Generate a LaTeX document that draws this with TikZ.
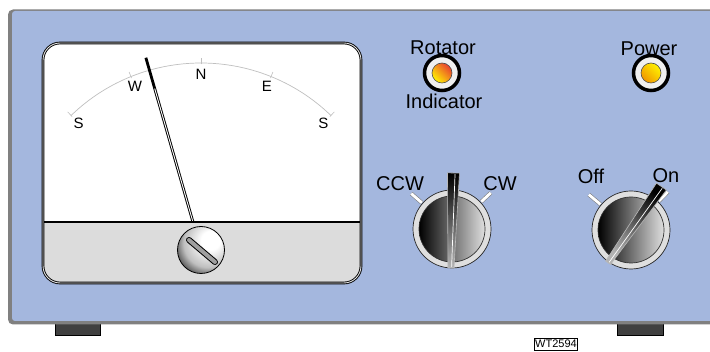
\documentclass[tikz,border=0pt]{standalone}
\usepackage{fontspec}
\setmainfont{Liberation Sans}
\definecolor{panelblue}{RGB}{164,183,222}
\definecolor{panelrim}{RGB}{128,128,128}
\definecolor{footgray}{RGB}{64,64,64}
\definecolor{scalegray}{RGB}{192,192,192}
\definecolor{lowergray}{RGB}{220,220,220}
\definecolor{ledred}{RGB}{232,64,48}
\definecolor{ledyellow}{RGB}{255,242,0}
\definecolor{ledorange}{RGB}{240,150,0}
\pgfdeclareradialshading{screwshade}{\pgfpoint{12bp}{12bp}}{%
  color(0bp)=(white); color(10bp)=(white); color(26bp)=(gray!50);
  color(38bp)=(gray!30!black); color(46bp)=(black); color(70bp)=(black)}
\begin{document}
\begin{tikzpicture}[x=1pt,y=-1pt,
  lbl/.style={font=\fontsize{20}{22}\selectfont, inner sep=0pt},
  dial/.style={font=\fontsize{15}{17}\selectfont, inner sep=0pt},
  foot/.style={fill=footgray, draw=black, line width=0.9pt},
  ledring/.style={circle, minimum size=35pt, inner sep=0pt, fill=gray!12, draw=black, line width=3.5pt},
  ledlamp/.style={circle, minimum size=20pt, inner sep=0pt, draw=black!70, line width=0.6pt},
  knobrim/.style={circle, minimum size=78pt, inner sep=0pt, fill=gray!25, draw=gray!30!black, line width=0.7pt},
  knobface/.style={circle, minimum size=66pt, inner sep=0pt, draw=black!80, line width=0.7pt,
    left color=black, middle color=gray!60, right color=gray!25},
  marker/.style={draw=gray, line width=0.6pt, double=white, double distance=2.8pt},
  pointer/.style={draw=gray!55, line width=0.6pt, top color=black, bottom color=gray!60},
  scaleline/.style={scalegray, line width=0.7pt},
]
\useasboundingbox (0,0) rectangle (710,352);

% feet under the cabinet
\draw[foot] (55,322) rectangle (100,335);
\draw[foot] (617,322) rectangle (663,335);

% cabinet front
\fill[panelrim, rounded corners=5pt] (8,9.5) rectangle (730,324.5);
\fill[panelblue, rounded corners=3pt] (12,11) rectangle (730,321);

% meter face
\fill[white, rounded corners=17pt] (43,43) rectangle (361,283);
\coordinate (piv) at (201,250);
\begin{scope}[shift={(piv)}, yscale=-1]
  \draw[scaleline] (134:187) arc[start angle=134, end angle=46, radius=187];
  \foreach \a in {134,112,90,68,46}
    \draw[scalegray, line width=0.6pt] (\a:185.5) -- (\a:192);
  \node[dial] (dS1) at (134:176) {S};
  \node[dial] (dW) at (112:176) {W};
  \node[dial] (dN) at (90:176) {N};
  \node[dial] (dE) at (68:176) {E};
  \node[dial] (dS2) at (46:176) {S};
  % needle
  \draw[line width=2.8pt] (0,0) -- (106:200);
  \draw[white, line width=0.9pt] (0,0) -- (106:168);
\end{scope}
\begin{scope}
  \clip[rounded corners=17pt] (43,43) rectangle (361,283);
  \fill[lowergray] (43,222) rectangle (361,283);
  \draw[line width=1.2pt] (43,222) -- (361,222);
\end{scope}
\draw[black, line width=0.9pt, double=white!80!gray, double distance=0.9pt, rounded corners=17pt]
  (43,43) rectangle (361,283);

% zero-adjust screw
\node[circle, minimum size=47pt, inner sep=0pt, shade, shading=screwshade, draw=black, line width=0.8pt]
  (screw) at (piv) {};
\draw[black, line width=6pt, line cap=round]
  ([shift={(-12,-10)}]screw.center) -- ([shift={(14,12)}]screw.center);
\draw[gray!75, line width=4pt, line cap=round]
  ([shift={(-12,-10)}]screw.center) -- ([shift={(14,12)}]screw.center);

% indicator lamps
\node[ledring] (rotring) at (442,73) {};
\node[ledlamp, top color=ledred, bottom color=ledyellow, shading angle=-45] (rotlamp) at (rotring) {};
\node[ledring] (pwrring) at (651,73) {};
\node[ledlamp, top color=ledyellow, bottom color=ledorange, shading angle=-45] (pwrlamp) at (pwrring) {};

% knob position markers
\coordinate (rk) at (452,229);
\coordinate (pk) at (631,230);
\begin{scope}[shift={(rk)}, yscale=-1]
  \draw[marker] (139:40) -- (139:54);
  \draw[marker] (43:40) -- (43:53);
\end{scope}
\begin{scope}[shift={(pk)}, yscale=-1]
  \draw[marker] (140:40) -- (140:55);
  \draw[marker] (46:40) -- (46:53);
\end{scope}

% knobs
\node[knobrim] (rotknob) at (rk) {};
\node[knobface] (rotface) at (rk) {};
\node[knobrim] (pwrknob) at (pk) {};
\node[knobface] (pwrface) at (pk) {};

% knob pointers (rotate acts after the y flip, so a positive angle turns clockwise)
\begin{scope}[shift={(rotknob.center)}, yscale=-1, rotate=1.5]
  \draw[pointer, shading angle=-1.5] (-6,56) -- (6,56) -- (3,-39) -- (-3,-39) -- cycle;
  \draw[white, line width=0.7pt] (1.6,55) -- (0.6,-38);
\end{scope}
\begin{scope}[shift={(pwrknob.center)}, yscale=-1, rotate=35]
  \draw[pointer, shading angle=-35] (-6,53) -- (6,53) -- (3,-40) -- (-3,-40) -- cycle;
  \draw[white, line width=0.7pt] (1.6,52) -- (0.6,-39);
\end{scope}

% panel legends
\node[lbl] (tRot) at (443,48) {Rotator};
\node[lbl] (tInd) at (444,101) {Indicator};
\node[lbl] (tPwr) at (649,49) {Power};
\node[lbl] (tCCW) at (400,184) {CCW};
\node[lbl] (tCW) at (500,184) {CW};
\node[lbl] (tOff) at (591,176) {Off};
\node[lbl] (tOn) at (666,176) {On};

% drawing reference
\node[draw, line width=0.6pt, inner xsep=1pt, inner ysep=2pt, anchor=north, font=\fontsize{11}{12}\selectfont]
  (ref) at (556,338) {WT2594};
\end{tikzpicture}
\end{document}
